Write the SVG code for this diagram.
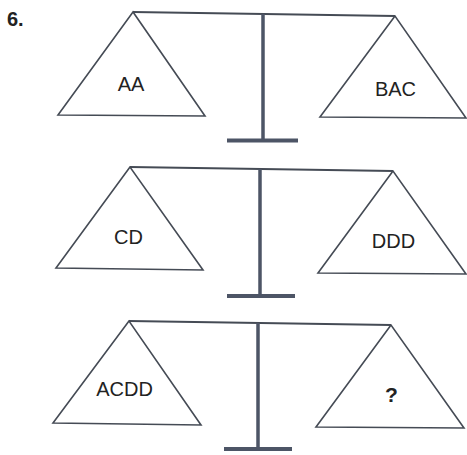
<svg xmlns="http://www.w3.org/2000/svg" width="467" height="455" viewBox="0 0 467 455">
<style>
.bg{fill:#ffffff}
.beam{stroke:#454b55;stroke-width:2;fill:none}
.pan{stroke:#454b55;stroke-width:1.6;fill:none;stroke-linejoin:miter}
.stem{stroke:#4d5566;stroke-width:3.5;fill:none}
.foot{stroke:#4d5566;stroke-width:4;fill:none}
.lbl{font-family:"Liberation Sans",Arial,sans-serif;font-size:20px;fill:#222;text-anchor:middle}
.num{font-family:"Liberation Sans",Arial,sans-serif;font-size:20px;font-weight:bold;fill:#222}
</style>
<rect class="bg" x="0" y="0" width="467" height="455"/>
<text class="num" x="7" y="26">6.</text>
<g id="scale1">
<g id="connectors1">
<line class="beam" x1="133" y1="12" x2="395" y2="16"/>
<line class="stem" x1="263" y1="14" x2="263" y2="140"/>
<line class="foot" x1="227" y1="140.5" x2="298" y2="140.5"/>
</g>
<g id="pan1L"><polygon class="pan" points="133,12 58,115 205,116"/><text class="lbl" x="131" y="91">AA</text></g>
<g id="pan1R"><polygon class="pan" points="395,16 320,117 466,118"/><text class="lbl" x="395.5" y="96">BAC</text></g>
</g>
<g id="scale2">
<g id="connectors2">
<line class="beam" x1="130" y1="167" x2="393" y2="171"/>
<line class="stem" x1="260" y1="169" x2="260" y2="295"/>
<line class="foot" x1="227" y1="296" x2="295" y2="296"/>
</g>
<g id="pan2L"><polygon class="pan" points="130,167 56,268 203,270"/><text class="lbl" x="128.5" y="244">CD</text></g>
<g id="pan2R"><polygon class="pan" points="393,171 318,273 466,274"/><text class="lbl" x="393.5" y="248">DDD</text></g>
</g>
<g id="scale3">
<g id="connectors3">
<line class="beam" x1="129" y1="321" x2="391" y2="325"/>
<line class="stem" x1="258" y1="323" x2="258" y2="448"/>
<line class="foot" x1="224" y1="449" x2="292" y2="449"/>
</g>
<g id="pan3L"><polygon class="pan" points="129,321 53,423 201,425"/><text class="lbl" x="124.5" y="396">ACDD</text></g>
<g id="pan3R"><polygon class="pan" points="391,325 316,427 464,428"/><text class="lbl" x="391.5" y="402" style="font-weight:bold;font-size:21px">?</text></g>
</g>
</svg>
